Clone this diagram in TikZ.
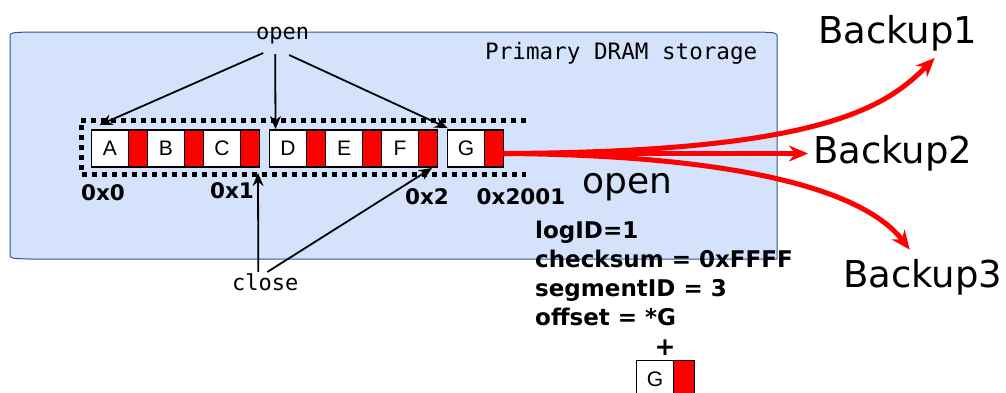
\documentclass[tikz,border=0pt]{standalone}
\usepackage{fontspec}
\setmainfont{Liberation Sans}
\setsansfont{DejaVu Sans}
\setmonofont{DejaVu Sans Mono}
\usetikzlibrary{positioning,arrows.meta}
\definecolor{dramfill}{RGB}{212,227,251}
\definecolor{dramline}{RGB}{47,85,151}
\definecolor{tagred}{RGB}{255,0,0}

\begin{document}
\begin{tikzpicture}[x=1pt, y=-1pt,
  cell/.style={draw, line width=1.5pt, fill=white, minimum width=37pt, minimum height=37pt, inner sep=0pt, outer sep=0pt, font=\fontsize{21}{21}\selectfont},
  tag/.style={cell, fill=tagred, minimum width=19pt},
  addr/.style={font=\sffamily\bfseries\fontsize{21.5}{21.5}\selectfont, inner sep=1pt},
  mono/.style={font=\ttfamily\fontsize{22}{22}\selectfont, inner sep=1pt, anchor=base west},
  big/.style={font=\sffamily\fontsize{37}{37}\selectfont, inner sep=1pt, anchor=base west},
  arr/.style={-{Stealth[length=13pt,width=11pt]}, line width=1.8pt},
  rep/.style={-{Stealth[length=19pt,width=16pt]}, line width=5pt, tagred}]
\clip (0,0) rectangle (1006,392);

% primary storage area
\draw[dramline, fill=dramfill, line width=1pt] (10,35) .. controls (12,32.5) .. (30,32) -- (757,32) .. controls (775,32.5) .. (777,35) -- (777,259) -- (30,259) .. controls (12,258.5) .. (10,256) -- cycle;
\node[mono, font=\ttfamily\fontsize{22.6}{22.6}\selectfont] (dram) at (484,59) {Primary DRAM storage};

% log segments
\node[cell] (A) at (110,148.5) {A};
\node[tag, right=0pt of A] (Ar) {};
\node[cell, right=0pt of Ar] (B) {B};
\node[tag, right=0pt of B] (Br) {};
\node[cell, right=0pt of Br] (C) {C};
\node[tag, right=0pt of C] (Cr) {};
\node[cell, right=10pt of Cr] (D) {D};
\node[tag, right=0pt of D] (Dr) {};
\node[cell, right=0pt of Dr] (E) {E};
\node[tag, right=0pt of E] (Er) {};
\node[cell, right=0pt of Er] (F) {F};
\node[tag, right=0pt of F] (Fr) {};
\node[cell, right=10pt of Fr] (G) {G};
\node[tag, right=0pt of G] (Gr) {};
\draw[line width=5pt, dash pattern=on 5pt off 5pt] (526,120) -- (81,120) -- (81,174) -- (526,174);

% addresses
\node[addr] (a0) at (103,193) {0x0};
\node[addr] (a1) at (232,191) {0x1};
\node[addr] (a2) at (427,197) {0x2};
\node[addr] (a3) at (521,197) {0x2001};

% open / close
\node[mono] (opentop) at (255,39) {open};
\node[mono] (close) at (231,290) {close};
\draw[arr] ([xshift=-19.5pt,yshift=-14pt]opentop.base) -- ([xshift=8pt,yshift=5pt]A.north west);
\draw[arr] ([xshift=-7.5pt,yshift=-15pt]opentop.base) -- ([xshift=6pt,yshift=1pt]D.north west);
\draw[arr] ([xshift=6.5pt,yshift=-16pt]opentop.base) -- ([yshift=2pt]G.north west);
\draw[arr] ([xshift=-7pt]close.north) -- ([xshift=-1.5pt,yshift=-6pt]Cr.south east);
\draw[arr] ([xshift=2pt]close.north) -- ([xshift=-5.5pt,yshift=-1pt]Fr.south east);

% replication
\node[big] (b1) at (817,43) {Backup1};
\node[big] (b2) at (812,163) {Backup2};
\node[big] (b3) at (842,287) {Backup3};
\node[big, font=\sffamily\fontsize{36}{36}\selectfont] (openbig) at (581,193) {open};
\coordinate (src) at ([yshift=-5pt]Gr.east);
\draw[rep, shorten >=4pt] (src) -- (src -| b2.west);
\draw[rep] (src) .. controls (820,152) and (885,108) .. ([xshift=37pt,yshift=-6pt]b1.south);
\draw[rep] (src) .. controls (720,155) and (860,185) .. ([xshift=-13pt,yshift=8pt]b3.north);

% log record
\node[anchor=north west, align=left, inner sep=0pt, font=\sffamily\bfseries\fontsize{23}{29}\selectfont] (info) at (535,221) {logID=1\\checksum = 0xFFFF\\segmentID = 3\\offset = *G};
\node[font=\sffamily\bfseries\fontsize{25}{25}\selectfont] (plus) at (665,348) {+};
\node[cell] (G2) at (655,379) {G};
\node[tag, right=0pt of G2, minimum width=21pt] (G2r) {};
\end{tikzpicture}
\end{document}
